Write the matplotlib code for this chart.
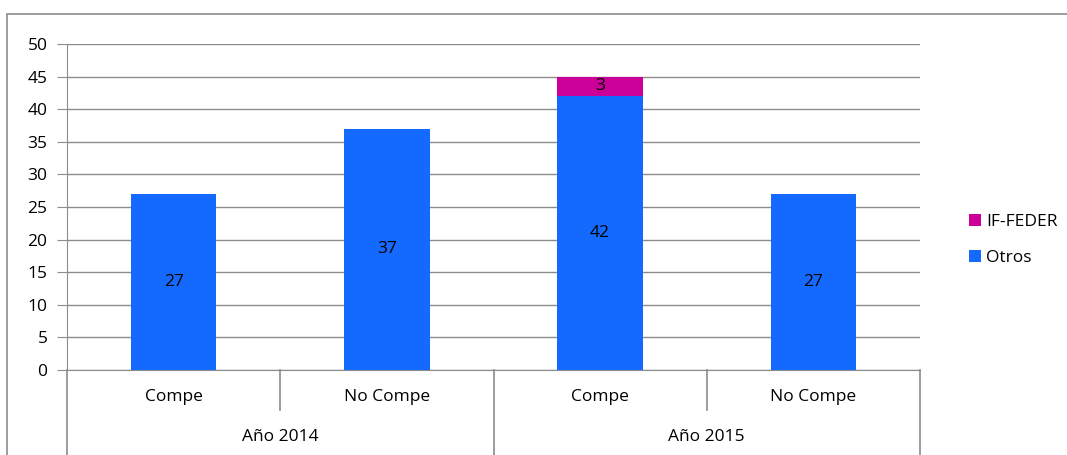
import matplotlib.pyplot as plt
from matplotlib.patches import Rectangle
import numpy as np

plt.rcParams["font.family"] = ["Open Sans", "DejaVu Sans"]

years = ["Año 2014", "Año 2015"]
groups = ["Compe", "No Compe", "Compe", "No Compe"]
otros = [27, 37, 42, 27]
if_feder = [0, 0, 3, 0]

BLUE = "#1469FF"
MAGENTA = "#CC0099"
GRID = "#8c8c8c"
FS = 12.5

W, H = 1067, 455
fig = plt.figure(figsize=(W / 100, H / 100), dpi=100)
ax = fig.add_axes([67 / W, (H - 370) / H, 853 / W, 326 / H])

x = np.arange(len(groups))
ax.bar(x, otros, width=0.4, color=BLUE, zorder=3, label="Otros")
ax.bar(x, if_feder, width=0.4, bottom=otros, color=MAGENTA, zorder=3, label="IF-FEDER")

for i, v in enumerate(otros):
    ax.text(i, v / 2, str(v), ha="center", va="center", fontsize=FS, zorder=4)
for i, v in enumerate(if_feder):
    if v:
        ax.text(i, otros[i] + v / 2, str(v), ha="center", va="center", fontsize=FS, zorder=4)

ax.set_xlim(-0.5, len(groups) - 0.5)
ax.set_ylim(0, 50)
ax.set_yticks(range(0, 51, 5))
ax.yaxis.grid(True, color=GRID, linewidth=1)
ax.set_axisbelow(True)
for s in ["top", "right"]:
    ax.spines[s].set_visible(False)
ax.spines["left"].set_color(GRID)
ax.spines["bottom"].set_color(GRID)
ax.tick_params(axis="y", length=7, color=GRID, labelsize=FS, pad=7)
ax.set_xticks([])

# two-level category axis
trans = ax.get_xaxis_transform()
for i, g in enumerate(groups):
    ax.text(i, -0.082, g, transform=trans, ha="center", va="center", fontsize=FS)
for j, yr in enumerate(years):
    ax.text(2 * j + 0.5, -0.207, yr, transform=trans, ha="center", va="center", fontsize=FS)
for b in np.arange(-0.5, len(groups), 1):
    low = -0.26 if b in (-0.5, 1.5, 3.5) else -0.123
    ax.plot([b, b], [0, low], transform=trans, color=GRID, linewidth=1.2, clip_on=False)

# legend
handles, labels = ax.get_legend_handles_labels()
fig.legend(handles[::-1], labels[::-1], loc="center left",
           bbox_to_anchor=(953 / W, (H - 240) / H), frameon=False,
           handlelength=0.7, handleheight=0.7, handletextpad=0.3,
           labelspacing=1.1, fontsize=FS)

# outer chart border (open on right and bottom)
fig.add_artist(Rectangle((7 / W, -0.1), 1.0, (H - 14) / H + 0.1,
                         transform=fig.transFigure, fill=False,
                         edgecolor=GRID, linewidth=1.2))

fig.savefig("out.png", dpi=100)
